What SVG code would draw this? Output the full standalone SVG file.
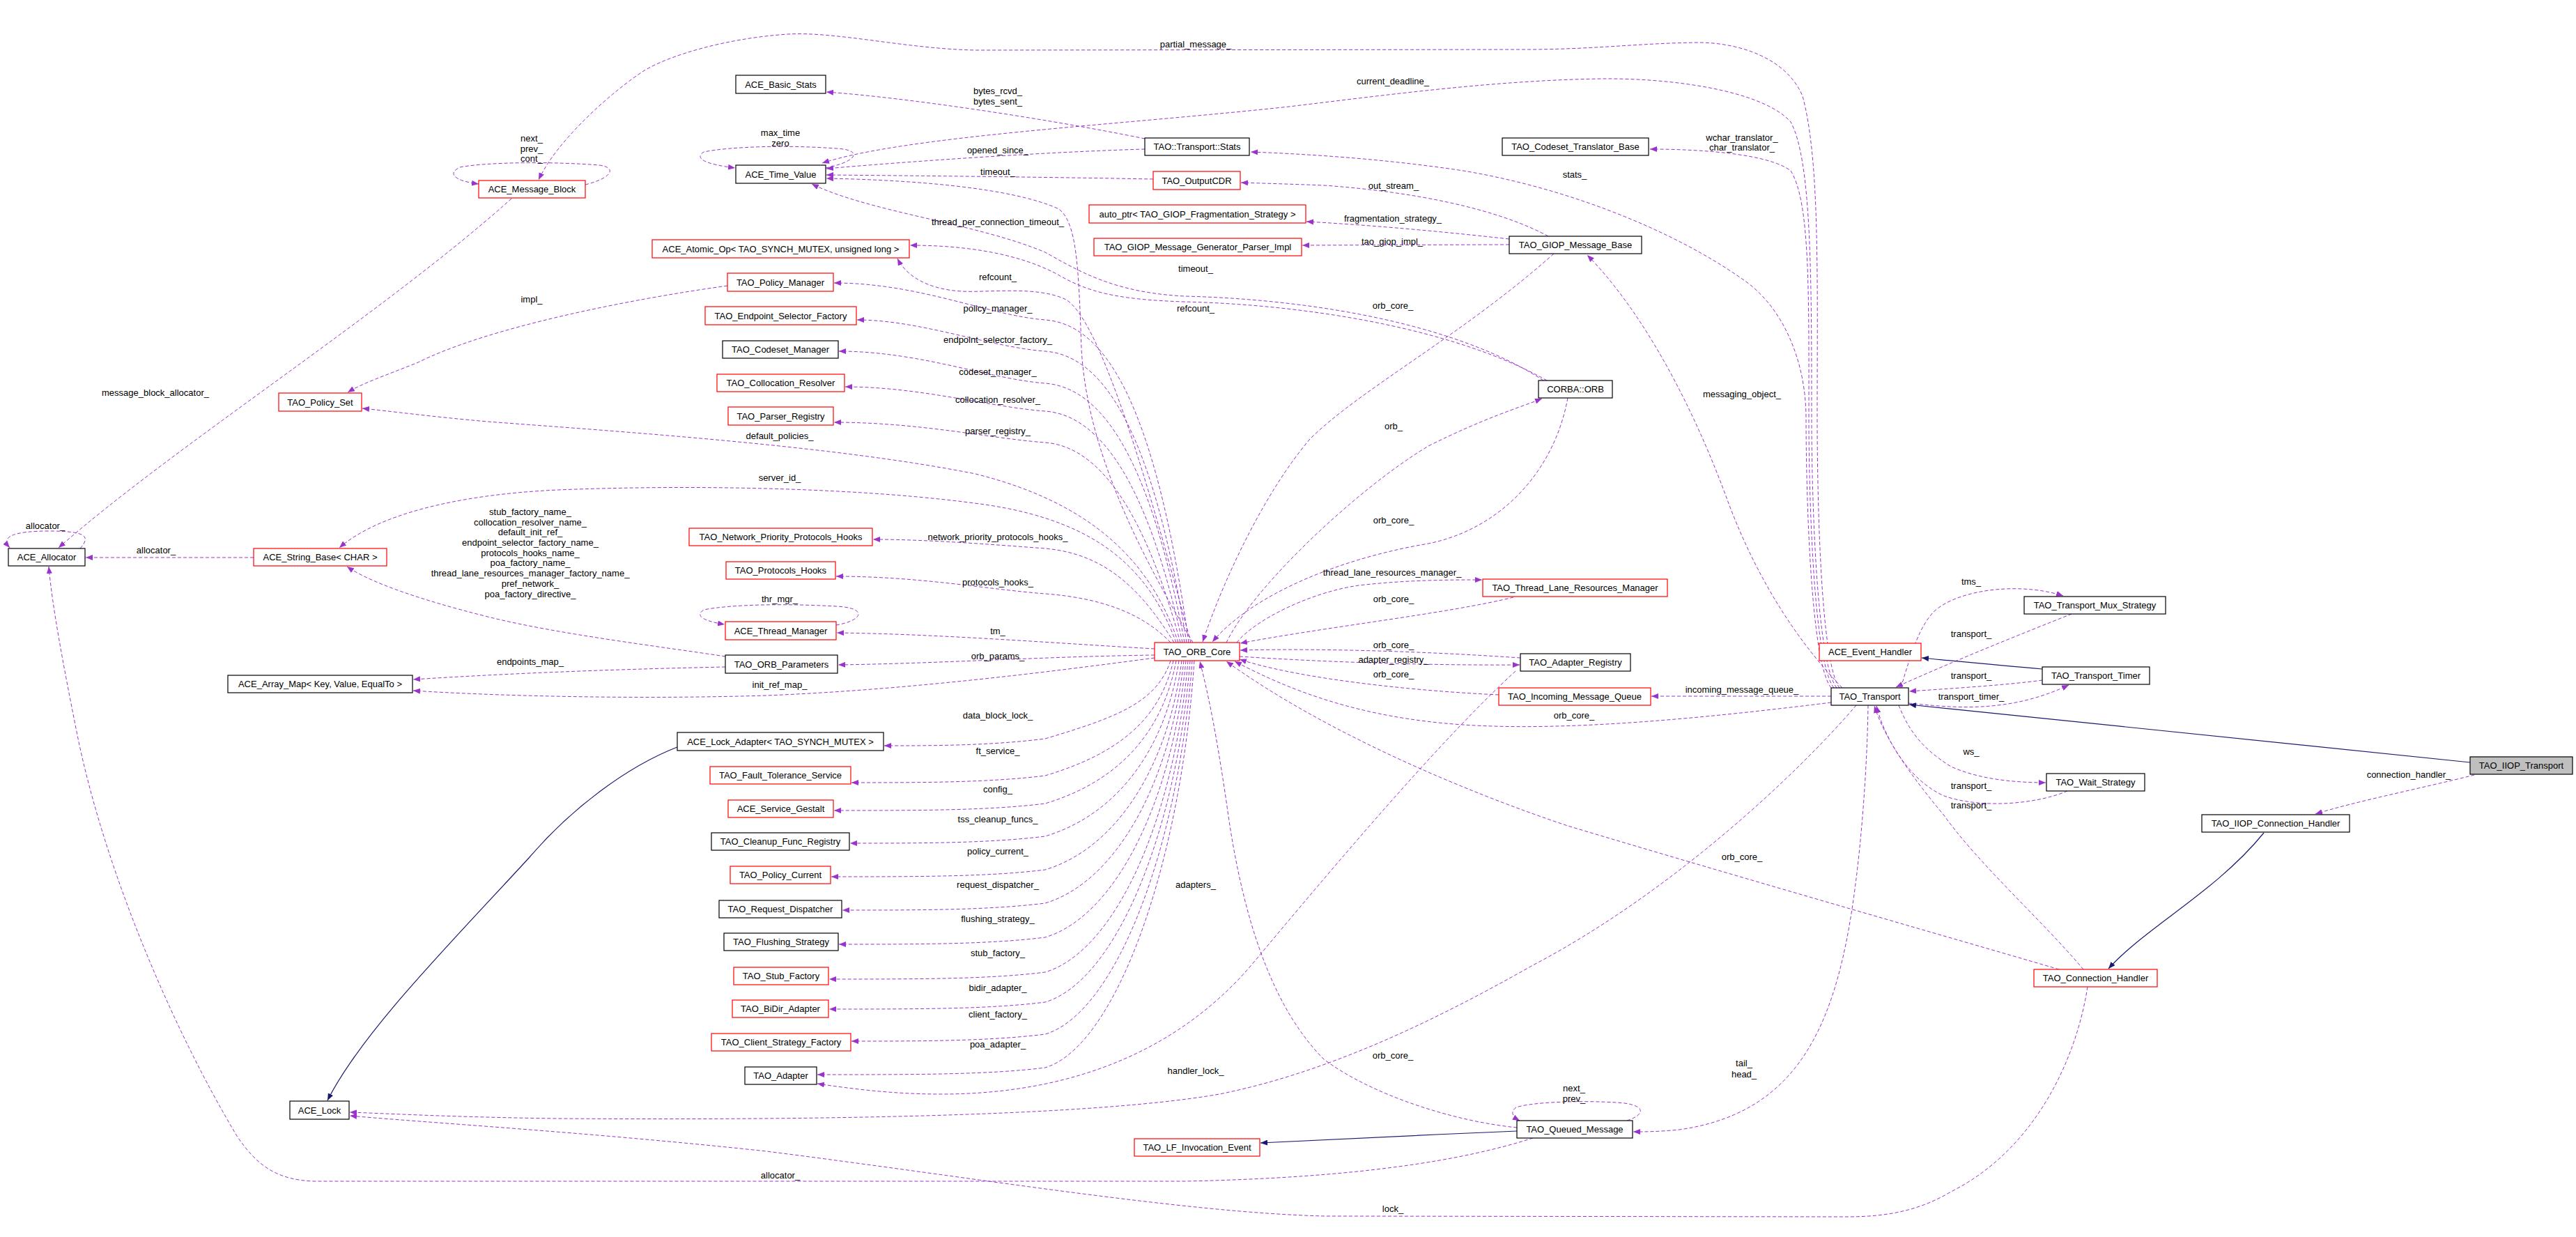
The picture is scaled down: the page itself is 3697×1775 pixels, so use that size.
<svg xmlns="http://www.w3.org/2000/svg" width="3697" height="1775" viewBox="0 0 3697 1775">
<style>
.e{fill:none;stroke:#9a32cd;stroke-width:1;stroke-dasharray:5,3;marker-end:url(#pa)}
.i{fill:none;stroke:#191970;stroke-width:1.2;marker-end:url(#ba)}
rect{fill:#fff;stroke:#000;stroke-width:1.2}
.r rect{stroke:#f00}
.g rect{fill:#bfbfbf}
text{font-family:'Liberation Sans',Arial,sans-serif;font-size:13px;fill:#000;text-anchor:middle}
</style>
<defs>
<marker id="pa" viewBox="0 0 10 8" refX="10" refY="4" markerWidth="10" markerHeight="8" markerUnits="userSpaceOnUse" orient="auto"><path d="M0,0L10,4L0,8z" fill="#9a32cd"/></marker>
<marker id="ba" viewBox="0 0 10 8" refX="10" refY="4" markerWidth="10" markerHeight="8" markerUnits="userSpaceOnUse" orient="auto"><path d="M0,0L10,4L0,8z" fill="#191970"/></marker>
</defs>
<rect x="0" y="0" width="3697" height="1775" style="fill:#fff;stroke:none"/>
<g id="connectors">
<path class="e" d="M2640,987 C2612,950 2608,700 2608,600 C2608,400 2612,230 2587,138 C2565,85 2500,62 2440,61 C2350,62 2300,70 2200,71 L1400,72 C1300,70 1200,45 1131,49 C1040,55 960,80 925,101 C880,130 800,200 773,258"/>
<path class="e" d="M2636,987 C2606,950 2600,700 2600,600 C2600,400 2600,230 2570,175 C2530,130 2400,112 2300,113 C2150,115 2000,135 1850,153 C1600,180 1300,195 1180,234"/>
<path class="e" d="M2632,987 C2602,950 2596,700 2596,600 C2596,420 2598,290 2570,245 C2540,222 2450,214 2368,214"/>
<path class="e" d="M2628,987 C2598,950 2592,700 2592,600 C2592,520 2560,440 2500,400 C2400,330 2250,270 2100,245 C2000,230 1900,222 1795,218"/>
<path class="e" d="M2644,987 C2560,900 2510,800 2480,720 C2440,610 2370,460 2278,366"/>
<path class="e" d="M1643,199 C1500,170 1300,140 1186,132"/>
<path class="e" d="M1643,214 C1500,218 1300,232 1186,242"/>
<path class="e" d="M1655,257 C1500,254 1300,252 1186,251"/>
<path class="e" d="M1185,241 C1230,232 1240,215 1200,213 C1130,208 1050,210 1010,218 C995,228 1015,236 1055,241"/>
<path class="e" d="M2222,339 C2150,300 2030,275 1900,266 C1850,264 1810,263 1781,262"/>
<path class="e" d="M2166,343 C2050,330 1950,322 1875,318"/>
<path class="e" d="M2166,351 L1869,352"/>
<path class="e" d="M1712,922 C1640,800 1560,650 1552,500 C1548,380 1545,320 1520,300 C1450,268 1300,258 1186,256"/>
<path class="e" d="M2215,546 C2100,470 1900,430 1700,425 C1600,420 1550,390 1500,362 C1400,320 1250,305 1165,264"/>
<path class="e" d="M2220,546 C2100,478 1900,438 1700,433 C1600,430 1560,418 1520,395 C1460,362 1380,352 1306,352"/>
<path class="e" d="M1709,922 C1650,700 1580,460 1530,430 C1490,410 1420,420 1380,418 C1330,415 1300,395 1288,371"/>
<path class="e" d="M1706,922 C1656,563 1580,465 1500,459 C1420,453 1320,406 1197,406"/>
<path class="e" d="M1703,922 C1653,608 1580,510 1500,504 C1420,498 1320,459 1230,459"/>
<path class="e" d="M1700,922 C1650,654 1580,556 1500,550 C1420,544 1320,504 1204,504"/>
<path class="e" d="M1697,922 C1647,694 1580,596 1500,590 C1420,584 1320,555 1213,555"/>
<path class="e" d="M1694,922 C1644,739 1580,641 1500,635 C1420,629 1320,606 1197,606"/>
<path class="e" d="M1691,922 C1650,800 1560,720 1400,680 C1200,640 900,620 700,605 C620,598 560,590 520,586"/>
<path class="e" d="M1688,922 C1650,820 1580,750 1420,725 C1250,700 1000,695 800,703 C650,710 540,740 487,786"/>
<path class="e" d="M1685,922 C1640,850 1590,795 1500,787 C1420,781 1330,774 1253,774"/>
<path class="e" d="M1680,922 C1640,880 1580,858 1500,852 C1420,846 1320,827 1200,827"/>
<path class="e" d="M1657,931 C1500,922 1350,910 1201,908"/>
<path class="e" d="M1200,897 C1240,890 1245,872 1200,870 C1130,866 1050,867 1010,875 C995,885 1015,892 1040,896"/>
<path class="e" d="M1657,940 C1500,942 1350,952 1203,954"/>
<path class="e" d="M1657,944 C1500,965 1300,990 1100,998 C900,1004 700,998 593,991"/>
<path class="e" d="M1041,957 C900,960 750,965 593,975"/>
<path class="e" d="M1041,942 C950,928 800,910 700,885 C600,860 530,835 498,813"/>
<path class="e" d="M364,800 L123,800"/>
<path class="e" d="M115,787 C130,770 125,762 70,762 C20,762 0,770 14,786"/>
<path class="e" d="M734,285 C550,450 250,640 84,786"/>
<path class="e" d="M840,265 C880,255 885,240 860,237 C800,232 700,232 660,240 C640,250 655,260 687,264"/>
<path class="e" d="M1044,410 C900,430 700,470 600,520 C550,540 520,550 499,563"/>
<path class="e" d="M1680,948 C1660,1009 1600,1030 1500,1060 C1420,1070 1340,1070 1269,1070"/>
<path class="e" d="M1684,948 C1664,1036 1600,1083 1500,1113 C1420,1123 1320,1123 1222,1123"/>
<path class="e" d="M1688,948 C1668,1056 1600,1123 1500,1153 C1420,1163 1320,1163 1197,1163"/>
<path class="e" d="M1692,948 C1672,1079 1600,1170 1500,1200 C1420,1210 1320,1210 1220,1210"/>
<path class="e" d="M1696,948 C1676,1103 1600,1218 1500,1248 C1420,1258 1320,1258 1193,1258"/>
<path class="e" d="M1699,948 C1679,1127 1600,1266 1500,1296 C1420,1306 1320,1306 1209,1306"/>
<path class="e" d="M1702,948 C1682,1152 1600,1315 1500,1345 C1420,1355 1320,1355 1204,1355"/>
<path class="e" d="M1705,948 C1685,1177 1600,1365 1500,1395 C1420,1405 1320,1405 1190,1405"/>
<path class="e" d="M1708,948 C1688,1198 1600,1408 1500,1438 C1420,1448 1320,1448 1190,1448"/>
<path class="e" d="M1711,948 C1691,1221 1600,1454 1500,1484 C1420,1494 1320,1494 1222,1494"/>
<path class="e" d="M1714,948 C1694,1245 1600,1502 1500,1532 C1420,1542 1320,1542 1173,1542"/>
<path class="e" d="M1760,922 C1800,840 1950,700 2050,640 C2130,600 2180,585 2213,572"/>
<path class="e" d="M2250,571 C2230,680 2150,760 2050,780 C1930,800 1800,850 1740,921"/>
<path class="e" d="M2230,364 C2100,480 1950,560 1880,630 C1820,700 1760,820 1726,921"/>
<path class="e" d="M1775,922 C1800,890 1880,850 1950,840 C2020,832 2080,832 2127,832"/>
<path class="e" d="M2172,857 C2080,880 1900,900 1780,923"/>
<path class="e" d="M2182,944 C2050,935 1900,930 1780,933"/>
<path class="e" d="M1779,942 C1900,950 2050,955 2181,954"/>
<path class="e" d="M2151,997 C2000,990 1850,970 1779,946"/>
<path class="e" d="M2628,999 L2370,999"/>
<path class="e" d="M2628,1008 C2450,1030 2250,1050 2100,1040 C1950,1030 1850,990 1772,949"/>
<path class="e" d="M2955,1391 C2850,1360 2500,1260 2250,1185 C2100,1135 1900,1050 1760,949"/>
<path class="e" d="M2177,1618 C2086,1609 1968,1571 1900,1520 C1820,1440 1780,1300 1760,1150 C1745,1050 1735,1000 1722,949"/>
<path class="e" d="M2728,987 C2745,930 2755,900 2775,878 C2810,845 2900,835 2961,855"/>
<path class="e" d="M2973,881 C2900,910 2800,950 2721,986"/>
<path class="e" d="M2931,976 C2880,983 2800,988 2740,992"/>
<path class="e" d="M2739,1009 C2800,1015 2880,1025 2969,983"/>
<path class="e" d="M2725,1012 C2740,1050 2760,1075 2800,1100 C2840,1118 2890,1123 2936,1123"/>
<path class="e" d="M2967,1135 C2920,1155 2840,1160 2790,1142 C2740,1120 2705,1060 2693,1013"/>
<path class="e" d="M2990,1391 C2930,1320 2840,1240 2790,1170 C2740,1110 2705,1060 2690,1013"/>
<path class="e" d="M3551,1112 C3480,1130 3380,1150 3323,1168"/>
<path class="e" d="M2681,1012 C2680,1100 2670,1250 2650,1350 C2620,1500 2560,1600 2410,1621 C2380,1624 2360,1624 2344,1624"/>
<path class="e" d="M2664,1012 C2580,1110 2400,1280 2200,1385 C2050,1470 1900,1540 1750,1570 C1550,1605 1100,1607 800,1605 C650,1603 560,1598 502,1596"/>
<path class="e" d="M2996,1416 C2980,1520 2920,1650 2800,1710 C2750,1740 2700,1746 2650,1746 L1900,1745 C1700,1740 1400,1690 1100,1652 C850,1625 600,1610 502,1601"/>
<path class="e" d="M2200,1633 C2100,1665 1950,1690 1700,1695 L450,1695 C400,1693 370,1675 340,1630 C250,1480 150,1250 110,1050 C90,950 75,870 70,813"/>
<path class="e" d="M2335,1608 C2365,1598 2360,1584 2320,1582 C2270,1579 2200,1581 2176,1589 C2166,1596 2172,1603 2181,1608"/>
<path class="e" d="M2175,963 C2080,1050 1950,1200 1800,1380 C1700,1500 1550,1570 1350,1570 C1280,1570 1220,1562 1173,1555"/>
<path class="i" d="M3545,1094 C3200,1060 2900,1030 2740,1011"/>
<path class="i" d="M2931,960 C2870,955 2800,948 2758,944"/>
<path class="i" d="M3249,1195 C3180,1280 3080,1330 3026,1390"/>
<path class="i" d="M2177,1623 C2050,1628 1900,1636 1809,1640"/>
<path class="i" d="M972,1072 C900,1100 820,1160 760,1230 C650,1350 520,1480 470,1579"/>
</g>
<g id="edge-labels">
<text x="1716" y="68">partial_message_</text>
<text x="1432" y="135">bytes_rcvd_</text>
<text x="1432" y="150">bytes_sent_</text>
<text x="1120" y="195">max_time</text>
<text x="1120" y="210">zero</text>
<text x="1999" y="121">current_deadline_</text>
<text x="2500" y="202">wchar_translator_</text>
<text x="2500" y="216">char_translator_</text>
<text x="1432" y="220">opened_since_</text>
<text x="1432" y="251">timeout_</text>
<text x="2260" y="255">stats_</text>
<text x="2000" y="271">out_stream_</text>
<text x="1999" y="318">fragmentation_strategy_</text>
<text x="1432" y="323">thread_per_connection_timeout_</text>
<text x="1998" y="351">tao_giop_impl_</text>
<text x="1716" y="390">timeout_</text>
<text x="1432" y="402">refcount_</text>
<text x="763" y="203">next_</text>
<text x="763" y="218">prev_</text>
<text x="763" y="232">cont_</text>
<text x="763" y="434">impl_</text>
<text x="1999" y="443">orb_core_</text>
<text x="1716" y="447">refcount_</text>
<text x="1432" y="447">policy_manager_</text>
<text x="1432" y="492">endpoint_selector_factory_</text>
<text x="1432" y="538">codeset_manager_</text>
<text x="2500" y="570">messaging_object_</text>
<text x="223" y="568">message_block_allocator_</text>
<text x="1432" y="578">collocation_resolver_</text>
<text x="2000" y="616">orb_</text>
<text x="1432" y="623">parser_registry_</text>
<text x="1119" y="630">default_policies_</text>
<text x="1119" y="690">server_id_</text>
<text x="761" y="739">stub_factory_name_</text>
<text x="761" y="754">collocation_resolver_name_</text>
<text x="761" y="768">default_init_ref_</text>
<text x="761" y="783">endpoint_selector_factory_name_</text>
<text x="761" y="798">protocols_hooks_name_</text>
<text x="761" y="812">poa_factory_name_</text>
<text x="761" y="827">thread_lane_resources_manager_factory_name_</text>
<text x="761" y="842">pref_network_</text>
<text x="761" y="857">poa_factory_directive_</text>
<text x="2000" y="751">orb_core_</text>
<text x="65" y="759">allocator_</text>
<text x="224" y="794">allocator_</text>
<text x="1432" y="775">network_priority_protocols_hooks_</text>
<text x="1998" y="826">thread_lane_resources_manager_</text>
<text x="2829" y="839">tms_</text>
<text x="1432" y="840">protocols_hooks_</text>
<text x="1119" y="864">thr_mgr_</text>
<text x="2000" y="864">orb_core_</text>
<text x="1432" y="910">tm_</text>
<text x="2829" y="914">transport_</text>
<text x="2000" y="930">orb_core_</text>
<text x="1432" y="946">orb_params_</text>
<text x="2000" y="951">adapter_registry_</text>
<text x="761" y="954">endpoints_map_</text>
<text x="2000" y="972">orb_core_</text>
<text x="2829" y="974">transport_</text>
<text x="1119" y="987">init_ref_map_</text>
<text x="2500" y="994">incoming_message_queue_</text>
<text x="2829" y="1004">transport_timer_</text>
<text x="1432" y="1031">data_block_lock_</text>
<text x="2259" y="1031">orb_core_</text>
<text x="1432" y="1082">ft_service_</text>
<text x="2829" y="1083">ws_</text>
<text x="3457" y="1116">connection_handler_</text>
<text x="2829" y="1132">transport_</text>
<text x="1432" y="1137">config_</text>
<text x="2829" y="1160">transport_</text>
<text x="1432" y="1180">tss_cleanup_funcs_</text>
<text x="1432" y="1226">policy_current_</text>
<text x="2500" y="1234">orb_core_</text>
<text x="1432" y="1274">request_dispatcher_</text>
<text x="1716" y="1274">adapters_</text>
<text x="1432" y="1323">flushing_strategy_</text>
<text x="1432" y="1372">stub_factory_</text>
<text x="1432" y="1422">bidir_adapter_</text>
<text x="1432" y="1460">client_factory_</text>
<text x="1432" y="1503">poa_adapter_</text>
<text x="1999" y="1519">orb_core_</text>
<text x="2503" y="1530">tail_</text>
<text x="2503" y="1546">head_</text>
<text x="1716" y="1541">handler_lock_</text>
<text x="2259" y="1566">next_</text>
<text x="2259" y="1581">prev_</text>
<text x="1120" y="1691">allocator_</text>
<text x="1999" y="1739">lock_</text>
</g>
<g id="n_ACE_Message_Block" class="r"><rect x="687" y="259" width="153" height="25"/><text x="763.5" y="276">ACE_Message_Block</text></g>
<g id="n_TAO_Policy_Set" class="r"><rect x="400" y="564" width="119" height="26"/><text x="459.5" y="581.5">TAO_Policy_Set</text></g>
<g id="n_ACE_Allocator"><rect x="12" y="787" width="110" height="25"/><text x="67" y="804">ACE_Allocator</text></g>
<g id="n_ACE_String_Base" class="r"><rect x="364" y="787" width="191" height="25"/><text x="459.5" y="804">ACE_String_Base&lt; CHAR &gt;</text></g>
<g id="n_ACE_Array_Map"><rect x="327" y="969" width="265" height="25"/><text x="459.5" y="986">ACE_Array_Map&lt; Key, Value, EqualTo &gt;</text></g>
<g id="n_ACE_Lock"><rect x="416" y="1580" width="85" height="26"/><text x="458.5" y="1597.5">ACE_Lock</text></g>
<g id="n_ACE_Basic_Stats"><rect x="1056" y="108" width="129" height="26"/><text x="1120.5" y="125.5">ACE_Basic_Stats</text></g>
<g id="n_ACE_Time_Value"><rect x="1056" y="237" width="129" height="26"/><text x="1120.5" y="254.5">ACE_Time_Value</text></g>
<g id="n_TAO_Transport_Stats"><rect x="1643" y="198" width="150" height="25"/><text x="1718" y="215">TAO::Transport::Stats</text></g>
<g id="n_TAO_OutputCDR" class="r"><rect x="1655" y="246" width="125" height="26"/><text x="1717.5" y="263.5">TAO_OutputCDR</text></g>
<g id="n_auto_ptr" class="r"><rect x="1563" y="294" width="311" height="26"/><text x="1718.5" y="311.5">auto_ptr&lt; TAO_GIOP_Fragmentation_Strategy &gt;</text></g>
<g id="n_TAO_GIOP_Message_Generator_Parser_Impl" class="r"><rect x="1570" y="342" width="298" height="25"/><text x="1719" y="359">TAO_GIOP_Message_Generator_Parser_Impl</text></g>
<g id="n_ACE_Atomic_Op" class="r"><rect x="936" y="344" width="369" height="26"/><text x="1120.5" y="361.5">ACE_Atomic_Op&lt; TAO_SYNCH_MUTEX, unsigned long &gt;</text></g>
<g id="n_TAO_Policy_Manager" class="r"><rect x="1044" y="392" width="152" height="26"/><text x="1120" y="409.5">TAO_Policy_Manager</text></g>
<g id="n_TAO_Endpoint_Selector_Factory" class="r"><rect x="1012" y="440" width="217" height="26"/><text x="1120.5" y="457.5">TAO_Endpoint_Selector_Factory</text></g>
<g id="n_TAO_Codeset_Manager"><rect x="1037" y="489" width="166" height="25"/><text x="1120" y="506">TAO_Codeset_Manager</text></g>
<g id="n_TAO_Collocation_Resolver" class="r"><rect x="1029" y="537" width="183" height="25"/><text x="1120.5" y="554">TAO_Collocation_Resolver</text></g>
<g id="n_TAO_Parser_Registry" class="r"><rect x="1045" y="584" width="151" height="26"/><text x="1120.5" y="601.5">TAO_Parser_Registry</text></g>
<g id="n_TAO_Network_Priority_Protocols_Hooks" class="r"><rect x="989" y="758" width="263" height="25"/><text x="1120.5" y="775">TAO_Network_Priority_Protocols_Hooks</text></g>
<g id="n_TAO_Protocols_Hooks" class="r"><rect x="1042" y="806" width="157" height="25"/><text x="1120.5" y="823">TAO_Protocols_Hooks</text></g>
<g id="n_ACE_Thread_Manager" class="r"><rect x="1041" y="892" width="159" height="26"/><text x="1120.5" y="909.5">ACE_Thread_Manager</text></g>
<g id="n_TAO_ORB_Parameters"><rect x="1041" y="940" width="161" height="26"/><text x="1121.5" y="957.5">TAO_ORB_Parameters</text></g>
<g id="n_TAO_ORB_Core" class="r"><rect x="1657" y="922" width="122" height="26"/><text x="1718" y="939.5">TAO_ORB_Core</text></g>
<g id="n_ACE_Lock_Adapter"><rect x="972" y="1051" width="296" height="26"/><text x="1120" y="1068.5">ACE_Lock_Adapter&lt; TAO_SYNCH_MUTEX &gt;</text></g>
<g id="n_TAO_Fault_Tolerance_Service" class="r"><rect x="1019" y="1100" width="202" height="25"/><text x="1120" y="1117">TAO_Fault_Tolerance_Service</text></g>
<g id="n_ACE_Service_Gestalt" class="r"><rect x="1045" y="1148" width="151" height="25"/><text x="1120.5" y="1165">ACE_Service_Gestalt</text></g>
<g id="n_TAO_Cleanup_Func_Registry"><rect x="1021" y="1195" width="198" height="25"/><text x="1120" y="1212">TAO_Cleanup_Func_Registry</text></g>
<g id="n_TAO_Policy_Current" class="r"><rect x="1048" y="1243" width="144" height="25"/><text x="1120" y="1260">TAO_Policy_Current</text></g>
<g id="n_TAO_Request_Dispatcher"><rect x="1032" y="1292" width="176" height="25"/><text x="1120" y="1309">TAO_Request_Dispatcher</text></g>
<g id="n_TAO_Flushing_Strategy"><rect x="1039" y="1339" width="164" height="25"/><text x="1121" y="1356">TAO_Flushing_Strategy</text></g>
<g id="n_TAO_Stub_Factory" class="r"><rect x="1053" y="1388" width="136" height="25"/><text x="1121" y="1405">TAO_Stub_Factory</text></g>
<g id="n_TAO_BiDir_Adapter" class="r"><rect x="1051" y="1435" width="138" height="25"/><text x="1120" y="1452">TAO_BiDir_Adapter</text></g>
<g id="n_TAO_Client_Strategy_Factory" class="r"><rect x="1021" y="1483" width="200" height="25"/><text x="1121" y="1500">TAO_Client_Strategy_Factory</text></g>
<g id="n_TAO_Adapter"><rect x="1069" y="1531" width="103" height="25"/><text x="1120.5" y="1548">TAO_Adapter</text></g>
<g id="n_TAO_LF_Invocation_Event" class="r"><rect x="1628" y="1634" width="180" height="25"/><text x="1718" y="1651">TAO_LF_Invocation_Event</text></g>
<g id="n_TAO_Codeset_Translator_Base"><rect x="2156" y="198" width="210" height="25"/><text x="2261" y="215">TAO_Codeset_Translator_Base</text></g>
<g id="n_TAO_GIOP_Message_Base"><rect x="2166" y="339" width="190" height="25"/><text x="2261" y="356">TAO_GIOP_Message_Base</text></g>
<g id="n_CORBA_ORB"><rect x="2208" y="546" width="106" height="25"/><text x="2261" y="563">CORBA::ORB</text></g>
<g id="n_TAO_Thread_Lane_Resources_Manager" class="r"><rect x="2128" y="831" width="265" height="25"/><text x="2260.5" y="848">TAO_Thread_Lane_Resources_Manager</text></g>
<g id="n_TAO_Adapter_Registry"><rect x="2182" y="938" width="158" height="25"/><text x="2261" y="955">TAO_Adapter_Registry</text></g>
<g id="n_TAO_Incoming_Message_Queue" class="r"><rect x="2151" y="987" width="218" height="25"/><text x="2260" y="1004">TAO_Incoming_Message_Queue</text></g>
<g id="n_TAO_Transport"><rect x="2628" y="987" width="111" height="25"/><text x="2683.5" y="1004">TAO_Transport</text></g>
<g id="n_ACE_Event_Handler" class="r"><rect x="2611" y="923" width="146" height="25"/><text x="2684" y="940">ACE_Event_Handler</text></g>
<g id="n_TAO_Transport_Mux_Strategy"><rect x="2905" y="856" width="203" height="25"/><text x="3006.5" y="873">TAO_Transport_Mux_Strategy</text></g>
<g id="n_TAO_Transport_Timer"><rect x="2931" y="957" width="154" height="25"/><text x="3008" y="974">TAO_Transport_Timer</text></g>
<g id="n_TAO_Wait_Strategy"><rect x="2937" y="1110" width="141" height="25"/><text x="3007.5" y="1127">TAO_Wait_Strategy</text></g>
<g id="n_TAO_IIOP_Transport" class="g"><rect x="3545" y="1086" width="147" height="25"/><text x="3618.5" y="1103">TAO_IIOP_Transport</text></g>
<g id="n_TAO_IIOP_Connection_Handler"><rect x="3160" y="1169" width="212" height="25"/><text x="3266" y="1186">TAO_IIOP_Connection_Handler</text></g>
<g id="n_TAO_Connection_Handler" class="r"><rect x="2919" y="1391" width="177" height="25"/><text x="3007.5" y="1408">TAO_Connection_Handler</text></g>
<g id="n_TAO_Queued_Message"><rect x="2177" y="1608" width="166" height="25"/><text x="2260" y="1625">TAO_Queued_Message</text></g>
</svg>
